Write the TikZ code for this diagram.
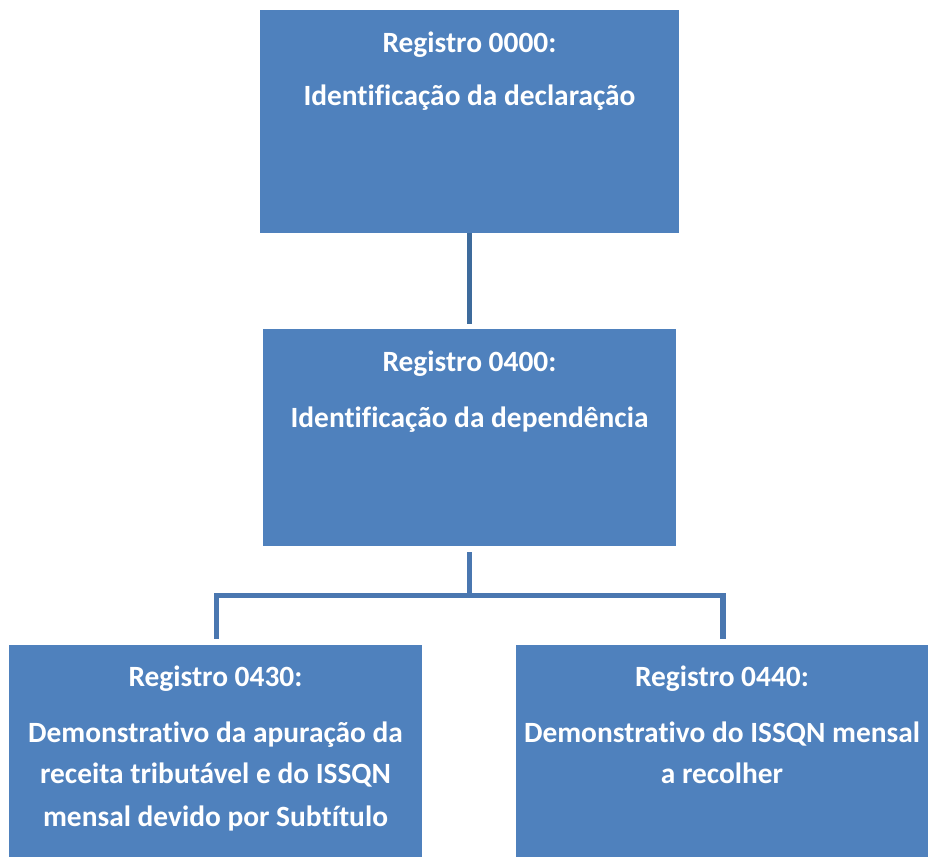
\documentclass[tikz,border=0pt]{standalone}
\usepackage{fontspec}
\setmainfont{Carlito}[Ligatures=NoCommon]
\definecolor{boxblue}{HTML}{4F81BD}
\definecolor{lineA}{HTML}{3E6B9C}
\definecolor{lineB}{HTML}{4A77B0}
\begin{document}
\begin{tikzpicture}[x=1pt,y=-1pt,
  box/.style={fill=boxblue, draw=none, inner sep=0pt, outer sep=0pt, anchor=north west},
  txt/.style={text=white, font=\fontsize{29.4}{35}\selectfont\bfseries, anchor=base, inner sep=0pt},
  connA/.style={draw=lineA, line width=5.5pt},
  connB/.style={draw=lineB, line width=5.5pt}]
\useasboundingbox (0,0) rectangle (928,857);
% boxes
\node[box, minimum width=419pt, minimum height=223pt] (b0) at (260,10) {};
\node[box, minimum width=413pt, minimum height=217pt] (b1) at (263,329) {};
\node[box, minimum width=413pt, minimum height=212pt] (b2) at (9,645) {};
\node[box, minimum width=412pt, minimum height=212pt] (b3) at (516,645) {};
% texts
\node[txt] (t0a) at (469.5,52) {Registro 0000:};
\node[txt] (t0b) at (469.5,105) {Identificação da declaração};
\node[txt] (t1a) at (469.5,371) {Registro 0400:};
\node[txt] (t1b) at (469.5,427) {Identificação da dependência};
\node[txt] (t2a) at (215.5,686) {Registro 0430:};
\node[txt] (t2b) at (215.5,742) {Demonstrativo da apuração da};
\node[txt] (t2c) at (215.5,783) {receita tributável e do ISSQN};
\node[txt] (t2d) at (215.5,826) {mensal devido por Subtítulo};
\node[txt] (t3a) at (722,686) {Registro 0440:};
\node[txt] (t3b) at (722,742) {Demonstrativo do ISSQN mensal};
\node[txt] (t3c) at (722,783) {a recolher};
% connectors
\coordinate (j) at (469.5,595.5);
\coordinate (jl) at (216.5,595.5);
\coordinate (jr) at (723,595.5);
\draw[connA, shorten >=5.5pt] (b0.south) -- (b1.north);
\draw[connB, shorten <=6pt] (b1.south) -- (j);
\draw[connB, shorten >=6pt] (j) -- (jl) -- (jl |- b2.north);
\draw[connB, shorten >=6pt] (j) -- (jr) -- (jr |- b3.north);
\end{tikzpicture}
\end{document}
